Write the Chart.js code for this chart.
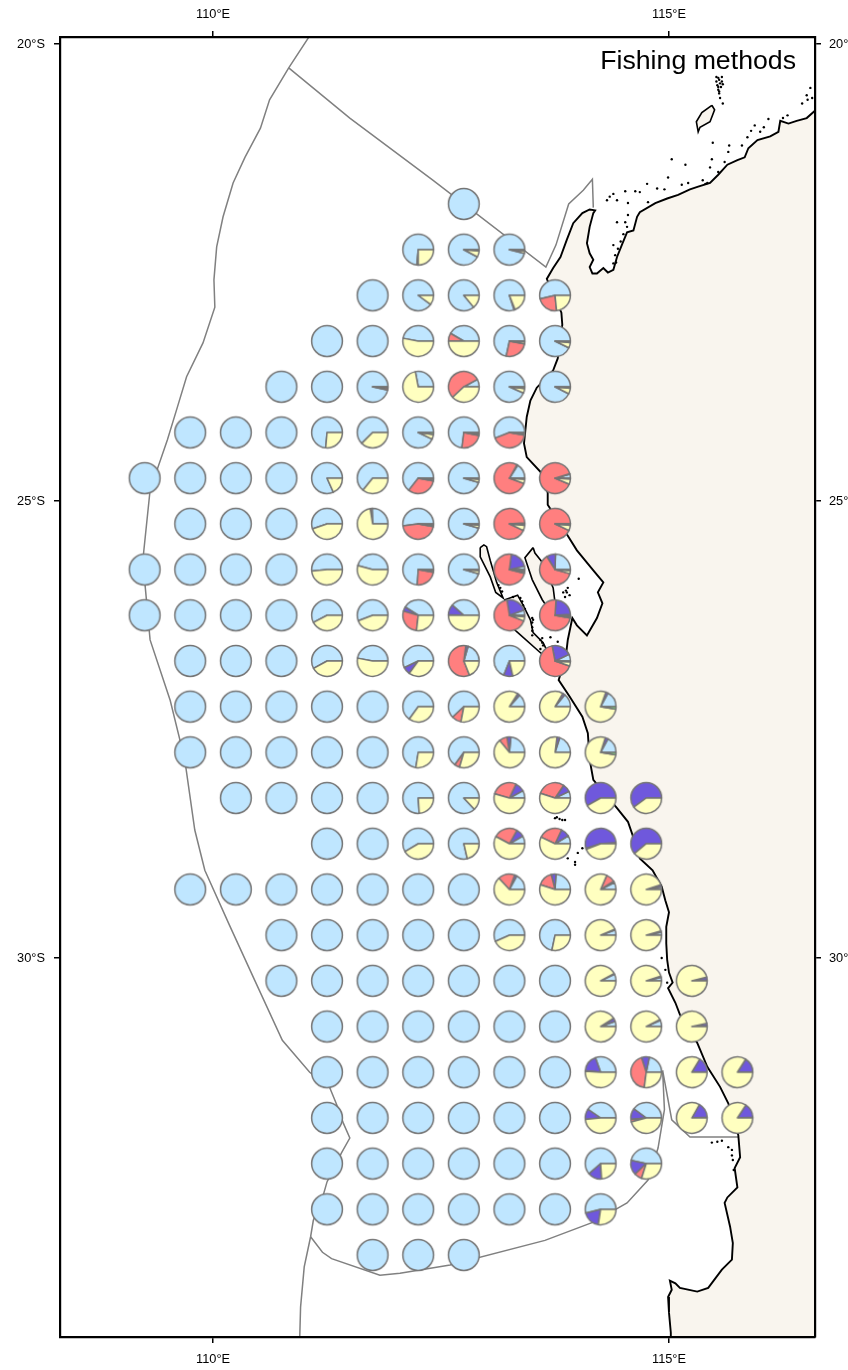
<!DOCTYPE html>
<html>
<head>
<meta charset="utf-8">
<title>Fishing methods</title>
<script src="https://cdn.jsdelivr.net/npm/chart.js@4/dist/chart.umd.min.js"></script>
<style>
    html, body { margin: 0; padding: 0; background: #fff; }
    canvas { display: block; }
</style>
</head>
<body>
<canvas id="map" width="848" height="1370"></canvas>
<script>
var chartTitle = 'Fishing methods';

var lonRange = [108.322, 116.601];
var latRange = [-34.147, -19.923];
var lonTicks = [110, 115];
var lonTickLabels = ['110°E', '115°E'];
var latTicks = [-20, -25, -30];
var latTickLabels = ['20°S', '25°S', '30°S'];

// half degree grid, one entry per row
var rowLat = [-21.75, -22.25, -22.75, -23.25, -23.75, -24.25, -24.75, -25.25, -25.75, -26.25, -26.75, -27.25,
    -27.75, -28.25, -28.75, -29.25, -29.75, -30.25, -30.75, -31.25, -31.75, -32.25, -32.75, -33.25];
var rowFirstLon = [112.75, 112.25, 111.75, 111.25, 110.75, 109.75, 109.25, 109.75, 109.25, 109.25, 109.75, 109.75,
    109.75, 110.25, 111.25, 109.75, 110.75, 110.75, 111.25, 111.25, 111.25, 111.25, 111.25, 111.75];
var rowCount = [1, 3, 5, 6, 7, 8, 10, 9, 10, 10, 9, 10, 10, 10, 8, 11, 9, 10, 9, 10, 10, 8, 7, 3];

// percent shares of the cells at the east end of each row, the cells west of them are all blue
var shareBlue = [
    [], [73.5, 92.2, 96], [90, 86, 80, 53.6], [47, 41.6, 71.6, 92.8], [96.7, 28, 8, 93.3, 92.5],
    [73.6, 62.5, 93, 73, 56], [81.7, 64.2, 64.4, 95.5, 16, 4.2], [55.3, 25.5, 52, 95.5, 1, 0.5],
    [51.5, 45.8, 74, 95.5, 3.5, 24.5], [57.7, 55.8, 41, 38.5, 5.5, 1], [58, 47, 57, 20.5, 69, 7],
    [65, 62, 13.5, 14, 17], [72.5, 65, 23.5, 20, 17], [76, 87, 8, 7, 0, 0], [58.5, 78.6, 8.3, 8.5, 1.4, 0],
    [17, 24, 7.5, 2.5], [56.7, 71.7, 5.5, 3], [7, 3.5, 1], [5.5, 6.5, 1], [30.5, 21.7, 0, 0],
    [40.5, 40, 0.8, 0.8], [61.5, 46.7], [54], []
];
var sharePurple = [
    [], [0, 0, 0], [0, 0, 0, 0], [0, 0, 0, 0], [0, 0, 0, 0, 0],
    [0, 0, 0, 0, 0], [0, 0, 0, 0, 1, 0.5], [0, 0, 0, 0, 0, 0],
    [0, 0, 0, 0, 19.5, 9.5], [0, 0, 4.7, 11, 22, 23], [0, 0, 8, 2.5, 9.5, 21],
    [0, 0, 2.5, 2.5, 2.5], [0, 0, 4, 3, 3], [0, 0, 10, 8.5, 58.3, 60], [0, 0, 8.6, 9.5, 53.6, 61],
    [2.5, 5, 1.5, 2.5], [0, 0, 0.8, 1.5], [1, 1.5, 3], [3.5, 1, 2.5], [18, 8.3, 16.4, 16],
    [11, 11.5, 16, 15], [14.5, 15.5], [18.6], []
];
var shareRed = [
    [], [1.5, 0, 0], [0, 0, 1, 23], [0, 8.4, 25.5, 0], [2.3, 0, 54, 0, 0],
    [0, 0, 0, 23.8, 41], [0, 0, 32.6, 0, 77.5, 89], [0, 2, 45, 0, 92, 92.5],
    [0, 0, 23, 0, 73, 61.7], [0, 0, 27.5, 0.5, 66.5, 73], [0, 0, 0, 58, 0, 66.7],
    [0, 10, 0, 0, 0], [0, 5.5, 8.5, 0, 0], [0, 0, 27.5, 29.5, 0, 0], [0, 0, 25.3, 25, 1, 0],
    [17.5, 16, 9.5, 0], [0, 0, 0, 0], [0, 0, 0], [0, 0, 0], [0.5, 43, 0, 0],
    [0, 2.7, 0, 0], [0, 8], [0], []
];
var shareYellow = [
    [], [25, 6.5, 3], [10, 14, 19, 23.4], [53, 50, 2.4, 5.7], [0, 72, 38, 5, 6],
    [26.4, 37.5, 5, 2, 1.5], [18.3, 35.8, 2, 3.5, 4.5, 5.5], [44.7, 72.5, 1.5, 3.3, 5.5, 5.5],
    [48.5, 54.2, 2, 3.5, 2.2, 3.3], [42.3, 44.2, 26.8, 50, 4.5, 1.5], [42, 53, 35, 19, 21.5, 4.5],
    [35, 28, 84, 83.5, 78], [27.5, 29.5, 64, 77, 77.5], [24, 13, 54.5, 55, 41.7, 40], [41.5, 21.4, 57.8, 57, 44, 39],
    [63, 55, 81.5, 95], [43.3, 28.3, 93.7, 95.5], [92, 95, 96], [91, 92.5, 96.5], [51, 27, 83.6, 84],
    [48.5, 45.8, 83.2, 84.2], [24, 30], [27.4], []
];
var shareGreen = [
    [], [0, 1.3, 1], [0, 0, 0, 0], [0, 0, 0.5, 1.5], [1, 0, 0, 1.7, 1.5],
    [0, 0, 2, 1.2, 1.5], [0, 0, 1, 1, 1, 0.8], [0, 0, 1.5, 1.2, 1.5, 1.5],
    [0, 0, 1, 1, 1.8, 1], [0, 0, 0, 0, 1.5, 1.5], [0, 0, 0, 0, 0, 0.8],
    [0, 0, 0, 0, 2.5], [0, 0, 0, 0, 2.5], [0, 0, 0, 0, 0, 0], [0, 0, 0, 0, 0, 0],
    [0, 0, 0, 0], [0, 0, 0, 0], [0, 0, 0], [0, 0, 0], [0, 0, 0, 0],
    [0, 0, 0, 0], [0, 0], [0], []
];

var mainCoastLon = [116.60, 116.51, 116.40, 116.31, 116.22, 116.20, 116.11, 115.97, 115.87, 115.83, 115.75, 115.64,
    115.54, 115.45, 115.32, 115.23, 115.10, 114.98, 114.85, 114.68, 114.65, 114.61, 114.54, 114.49, 114.43, 114.39,
    114.33, 114.28, 114.21, 114.16, 114.13, 114.17, 114.13, 114.10, 114.13, 114.17, 114.19, 114.13, 114.05, 113.95,
    113.88, 113.81, 113.73, 113.66, 113.82, 113.83, 113.78, 113.73, 113.55, 113.48, 113.44, 113.41, 113.44, 113.59,
    113.67, 113.67, 113.89, 113.99, 114.17, 114.28, 114.22, 114.27, 114.21, 114.10, 113.99, 113.94, 113.89, 113.87,
    113.79, 113.91, 114.05, 114.11, 114.13, 114.17, 114.43, 114.55, 114.63, 114.68, 114.82, 114.92, 114.96, 115.00,
    114.97, 114.97, 114.98, 115.00, 115.04, 114.99, 115.07, 115.12, 115.31, 115.42, 115.56, 115.65, 115.76, 115.78,
    115.72, 115.75, 115.64, 115.61, 115.67, 115.70, 115.69, 115.58, 115.43, 115.31, 115.12, 115.07, 115.01, 115.03,
    114.99, 115.00, 115.02, 115.02];
var mainCoastLat = [-20.73, -20.81, -20.84, -20.87, -20.84, -20.96, -21.01, -21.05, -21.14, -21.24, -21.27, -21.32,
    -21.43, -21.52, -21.56, -21.59, -21.65, -21.69, -21.74, -21.84, -21.89, -22.04, -22.06, -22.18, -22.33, -22.47,
    -22.50, -22.45, -22.51, -22.51, -22.44, -22.36, -22.29, -22.18, -22.00, -21.85, -21.82, -21.81, -21.85, -21.96,
    -22.14, -22.33, -22.45, -22.57, -22.94, -23.07, -23.44, -23.57, -23.76, -23.90, -24.08, -24.37, -24.52, -24.68,
    -24.91, -25.04, -25.38, -25.54, -25.76, -25.89, -26.00, -26.12, -26.28, -26.47, -26.36, -26.28, -26.52, -26.69,
    -26.96, -27.14, -27.36, -27.54, -27.83, -28.05, -28.36, -28.51, -28.74, -28.91, -29.04, -29.22, -29.37, -29.50,
    -29.66, -29.84, -30.02, -30.16, -30.27, -30.33, -30.49, -30.62, -30.93, -31.19, -31.41, -31.59, -31.94, -32.18,
    -32.30, -32.51, -32.62, -32.68, -32.94, -33.12, -33.30, -33.41, -33.61, -33.65, -33.61, -33.56, -33.53, -33.63,
    -33.71, -33.88, -34.10, -34.16];
var landCornerLon = [116.70, 116.70];
var landCornerLat = [-34.20, -20.73];

var peronLon = [113.51, 113.42, 113.50, 113.61, 113.70, 113.76, 113.73, 113.61, 113.53, 113.51];
var peronLat = [-25.51, -25.62, -25.86, -26.08, -26.21, -26.19, -25.95, -25.67, -25.57, -25.51];
var hartogLon = [112.93, 112.97, 113.00, 113.04, 113.11, 113.18, 113.10, 113.04, 112.93, 112.93];
var hartogLat = [-25.51, -25.48, -25.50, -25.65, -25.89, -26.06, -26.00, -25.83, -25.61, -25.51];
var edelLon = [113.20, 113.33, 113.59, 113.72, 113.62, 113.51, 113.48, 113.40, 113.34, 113.20, 113.20];
var edelLat = [-26.30, -26.43, -26.66, -26.76, -26.55, -26.44, -26.30, -26.14, -26.03, -26.08, -26.30];
var barrowLon = [115.47, 115.50, 115.45, 115.34, 115.32, 115.30, 115.36, 115.47];
var barrowLat = [-20.67, -20.72, -20.85, -20.91, -20.96, -20.85, -20.75, -20.67];

var isletLon = [115.54, 115.56, 115.59, 115.54, 115.54, 115.56, 115.59, 116.55, 116.51, 116.52, 116.46, 116.57,
    116.30, 116.25, 116.09, 115.94, 116.04, 115.90, 115.86, 116.00, 115.80, 115.66, 115.48, 115.65, 115.47, 115.61,
    115.45, 115.54, 115.03, 115.18, 114.99, 115.37, 115.21, 115.14, 114.95, 114.87, 114.76, 114.68, 114.63, 114.52,
    114.35, 114.32, 114.39, 114.43, 114.55, 114.77, 114.55, 114.43, 114.52, 114.39, 114.42,
    113.75, 113.80, 113.86, 114.00, 113.97, 113.89, 114.05, 113.97, 114.92, 114.96, 114.98,
    115.53, 115.47, 115.58, 115.65, 115.69, 115.70, 115.71, 115.69,
    113.15, 113.29, 113.37, 113.40, 113.50, 113.50, 113.51, 113.61, 113.62, 113.70, 113.78, 113.88, 113.89, 113.86, 114.01,
    115.52, 115.58, 115.52, 115.58, 115.55, 115.55, 115.53, 115.57, 115.55,
    113.39, 113.42, 113.50, 113.50, 113.50, 113.59, 113.59, 113.61, 113.87, 113.91, 113.84, 113.77, 113.83, 113.13, 113.17,
    114.47, 114.44, 114.41, 114.39, 114.50, 114.54, 115.42, 115.40];
var isletLat = [-20.37, -20.43, -20.44, -20.50, -20.47, -20.59, -20.65, -20.48, -20.56, -20.61, -20.65, -20.59,
    -20.78, -20.81, -20.82, -20.89, -20.91, -20.95, -21.02, -20.96, -21.11, -21.11, -21.08, -21.18, -21.26, -21.29,
    -21.35, -21.40, -21.26, -21.32, -21.46, -21.49, -21.52, -21.54, -21.59, -21.58, -21.53, -21.62, -21.61, -21.61,
    -21.67, -21.71, -21.64, -21.71, -21.74, -21.73, -21.87, -21.95, -21.95, -22.20, -22.39,
    -28.47, -28.48, -28.49, -28.85, -28.95, -28.91, -28.80, -28.98, -30.00, -30.13, -30.27,
    -32.01, -32.02, -32.00, -32.07, -32.10, -32.21, -32.32, -32.16,
    -25.95, -26.05, -26.06, -26.14, -26.38, -26.47, -26.30, -26.50, -26.58, -26.49, -26.54, -26.00, -25.95, -26.05, -25.85,
    -20.36, -20.36, -20.41, -20.41, -20.39, -20.52, -20.45, -20.47, -20.54,
    -26.10, -26.18, -26.28, -26.33, -26.42, -26.52, -26.62, -26.55, -25.98, -26.03, -26.00, -28.46, -28.49, -25.92, -25.99,
    -22.16, -22.24, -22.31, -22.40, -22.08, -22.00, -21.52, -21.53];

var outerZoneLon = [111.06, 110.83, 110.62, 110.52, 110.35, 110.22, 110.11, 110.04, 110.01, 110.02, 109.89, 109.71,
    109.61, 109.50, 109.31, 109.23, 109.31, 109.53, 109.69, 109.80, 109.91, 110.18, 110.46, 110.76, 111.06, 111.28,
    111.35, 111.43, 111.50, 111.41, 111.25, 111.21, 111.10, 111.07, 111.00, 110.96, 110.95];
var outerZoneLat = [-19.91, -20.26, -20.61, -20.92, -21.24, -21.52, -21.89, -22.22, -22.58, -22.88, -23.27, -23.64,
    -23.97, -24.33, -24.88, -25.65, -26.52, -27.18, -27.83, -28.60, -29.04, -29.64, -30.25, -30.90, -31.25, -31.42,
    -31.59, -31.81, -31.97, -32.13, -32.45, -32.59, -32.87, -33.05, -33.38, -33.82, -34.18];
var southZoneLon = [111.07, 111.20, 111.30, 111.83, 112.05, 112.60, 113.64, 114.17, 114.54, 114.77, 114.88, 114.95, 114.93, 115.03, 115.23, 115.76];
var southZoneLat = [-33.05, -33.22, -33.29, -33.47, -33.45, -33.36, -33.09, -32.89, -32.68, -32.43, -32.08, -31.66, -31.23, -31.77, -31.96, -31.96];
var northZoneLon = [110.83, 111.50, 112.41, 113.65, 113.76, 113.90, 114.06, 114.16, 114.17];
var northZoneLat = [-20.26, -20.81, -21.49, -22.44, -22.20, -21.75, -21.60, -21.48, -21.79];

var landColor = '#f9f5ee';
var zoneColor = '#808080';
var pieColors = ['#bfe6ff', '#6f58dc', '#ff7f7f', '#ffffc0', '#7fff7f'];
var pieRadius = 15.4;

function toPoints(lons, lats) {
    return lons.map(function (lon, i) {
        return { x: lon, y: lats[i] };
    });
}

function makePie(shares) {
    var canvas = document.createElement('canvas');
    canvas.width = 36;
    canvas.height = 36;
    var ctx = canvas.getContext('2d');
    var total = shares.reduce(function (a, b) { return a + b; }, 0);
    var angle = 0;
    ctx.strokeStyle = '#747474';
    ctx.lineWidth = 1.5;
    ctx.lineJoin = 'round';
    shares.forEach(function (share, i) {
        if (share <= 0) return;
        var sweep = share / total * Math.PI * 2;
        ctx.beginPath();
        if (share < total) ctx.moveTo(18, 18);
        ctx.arc(18, 18, pieRadius, -angle, -angle - sweep, true);
        ctx.closePath();
        ctx.fillStyle = pieColors[i];
        ctx.fill();
        ctx.stroke();
        angle += sweep;
    });
    return canvas;
}

var piePoints = [];
var pieImages = [];
rowLat.forEach(function (lat, r) {
    var mixedFrom = rowCount[r] - shareBlue[r].length;
    for (var c = 0; c < rowCount[r]; c++) {
        var m = c - mixedFrom;
        var shares = m < 0 ? [100, 0, 0, 0, 0]
            : [shareBlue[r][m], sharePurple[r][m], shareRed[r][m], shareYellow[r][m], shareGreen[r][m]];
        piePoints.push({ x: rowFirstLon[r] + c * 0.5, y: lat });
        pieImages.push(makePie(shares));
    }
});

function lineSet(lons, lats, color, width) {
    return {
        type: 'scatter',
        data: toPoints(lons, lats),
        showLine: true,
        borderColor: color,
        borderWidth: width,
        pointRadius: 0,
        fill: false,
        tension: 0
    };
}

var landPlugin = {
    id: 'land',
    beforeDatasetsDraw: function (chart) {
        var ctx = chart.ctx, area = chart.chartArea;
        var xs = chart.scales.x, ys = chart.scales.y;
        var shapes = [
            [mainCoastLon.concat(landCornerLon), mainCoastLat.concat(landCornerLat)],
            [peronLon, peronLat], [hartogLon, hartogLat], [edelLon, edelLat], [barrowLon, barrowLat]
        ];
        ctx.save();
        ctx.beginPath();
        ctx.rect(area.left, area.top, area.right - area.left, area.bottom - area.top);
        ctx.clip();
        ctx.fillStyle = landColor;
        shapes.forEach(function (shape) {
            ctx.beginPath();
            shape[0].forEach(function (lon, i) {
                ctx.lineTo(xs.getPixelForValue(lon), ys.getPixelForValue(shape[1][i]));
            });
            ctx.closePath();
            ctx.fill();
        });
        ctx.restore();
    }
};

var titlePlugin = {
    id: 'mapTitle',
    afterDraw: function (chart) {
        var ctx = chart.ctx;
        ctx.save();
        ctx.font = '26.7px "Liberation Sans", Arial, sans-serif';
        ctx.fillStyle = '#000';
        ctx.textAlign = 'right';
        ctx.textBaseline = 'alphabetic';
        ctx.fillText(chartTitle, 796, 69);
        ctx.restore();
    }
};

function axis(position, range, ticks, labels, size, padding) {
    var horizontal = position === 'top' || position === 'bottom';
    return {
        type: 'linear',
        position: position,
        axis: horizontal ? 'x' : 'y',
        min: range[0],
        max: range[1],
        border: { display: true, color: '#000', width: 2.2, z: 2 },
        grid: { display: true, drawOnChartArea: false, drawTicks: true, tickLength: 6, color: '#000', lineWidth: 1.5 },
        ticks: {
            autoSkip: false,
            maxRotation: 0,
            minRotation: 0,
            padding: padding,
            color: '#000',
            font: { family: '"Liberation Sans", Arial, sans-serif', size: 12.8 },
            callback: function (value) {
                return labels[ticks.indexOf(value)];
            }
        },
        afterBuildTicks: function (scale) {
            scale.ticks = ticks.map(function (v) { return { value: v }; });
        },
        afterFit: function (scale) {
            if (horizontal) scale.height = size;
            else scale.width = size;
        }
    };
}

new Chart(document.getElementById('map'), {
    type: 'scatter',
    data: {
        datasets: [
            {
                data: piePoints,
                pointStyle: function (ctx) { return pieImages[ctx.dataIndex]; },
                pointRadius: 16,
                showLine: false
            },
            lineSet(mainCoastLon, mainCoastLat, '#000', 1.9),
            lineSet(peronLon, peronLat, '#000', 1.6),
            lineSet(hartogLon, hartogLat, '#000', 1.6),
            lineSet(edelLon, edelLat, '#000', 1.6),
            lineSet(barrowLon, barrowLat, '#000', 1.6),
            {
                data: toPoints(isletLon, isletLat),
                pointStyle: 'circle',
                pointRadius: 1.2,
                borderWidth: 0,
                backgroundColor: '#000',
                showLine: false
            },
            lineSet(outerZoneLon, outerZoneLat, zoneColor, 1.5),
            lineSet(southZoneLon, southZoneLat, zoneColor, 1.5),
            lineSet(northZoneLon, northZoneLat, zoneColor, 1.5)
        ]
    },
    options: {
        responsive: false,
        animation: false,
        layout: { padding: 0 },
        plugins: { legend: { display: false }, tooltip: { enabled: false } },
        scales: {
            x: axis('bottom', lonRange, lonTicks, lonTickLabels, 33, 9),
            xTop: axis('top', lonRange, lonTicks, lonTickLabels, 37, 9),
            y: axis('left', latRange, latTicks, latTickLabels, 60, 9),
            yRight: axis('right', latRange, latTicks, latTickLabels, 33, 8)
        }
    },
    plugins: [landPlugin, titlePlugin]
});
</script>
</body>
</html>
